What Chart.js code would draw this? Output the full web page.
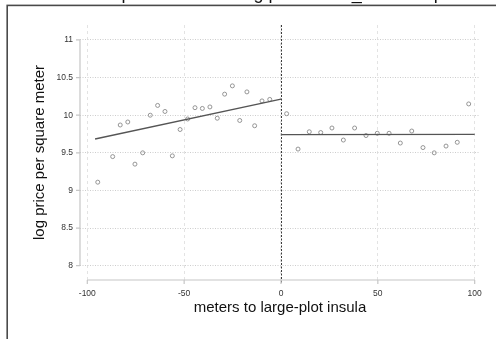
<!DOCTYPE html>
<html><head><meta charset="utf-8">
<script src="https://cdn.jsdelivr.net/npm/chart.js@4.4.1/dist/chart.umd.min.js"></script>
<style>
html,body{margin:0;padding:0;background:#fff;overflow:hidden;}
#wrap{position:relative;width:496px;height:339px;overflow:hidden;background:#fff;}
#cut{position:absolute;left:90.5px;top:-16px;font:18px/18px "Liberation Sans",Arial,sans-serif;color:#111;white-space:nowrap;}
canvas{position:absolute;left:0;top:0;}
</style></head><body>
<div id="wrap"><canvas id="c" width="496" height="339"></canvas><div id="cut">RD plot of means: log prices and_distance plot</div></div>
<script>
const cutoff = 0;
const xTicks = [-100, -50, 0, 50, 100];
const xTickLabels = ['-100', '-50', '0', '50', '100'];
const yTicks = [8, 8.5, 9, 9.5, 10, 10.5, 11];
const yTickLabels = ['8', '8.5', '9', '9.5', '10', '10.5', '11'];
const xTitle = 'meters to large-plot insula';
const yTitle = 'log price per square meter';

const leftBinX = [-94.6, -86.9, -83.0, -79.1, -75.4, -71.4, -67.5, -63.7, -59.9, -56.1, -52.1, -48.2, -44.4, -40.6, -36.7, -32.9, -29.1, -25.1, -21.3, -17.6, -13.6, -9.8, -5.8];
const leftBinY = [9.11, 9.45, 9.87, 9.91, 9.35, 9.50, 10.00, 10.13, 10.05, 9.46, 9.81, 9.95, 10.10, 10.09, 10.11, 9.96, 10.28, 10.39, 9.93, 10.31, 9.86, 10.19, 10.21];
const rightBinX = [2.9, 8.8, 14.6, 20.5, 26.3, 32.2, 38.0, 43.9, 49.7, 55.8, 61.6, 67.5, 73.3, 79.1, 85.2, 91.0, 96.9];
const rightBinY = [10.02, 9.55, 9.78, 9.77, 9.83, 9.67, 9.83, 9.73, 9.76, 9.76, 9.63, 9.79, 9.57, 9.50, 9.59, 9.64, 10.15];
const leftFitX = [-96, 0];
const leftFitY = [9.684, 10.215];
const rightFitX = [0, 100];
const rightFitY = [9.741, 9.745];

const zip = (xs, ys) => xs.map((x, i) => ({x: x, y: ys[i]}));
const FONT = '"Liberation Sans", Arial, Helvetica, sans-serif';

const framePlugin = {
  id: 'frame',
  beforeDraw(chart) {
    const ctx = chart.ctx;
    ctx.save();
    ctx.strokeStyle = '#4a4a4a';
    ctx.lineWidth = 1.6;
    ctx.strokeRect(7.2, 5.4, 700, 700);
    ctx.restore();
  }
};

const axesPlugin = {
  id: 'stataAxes',
  beforeDatasetsDraw(chart) {
    const ctx = chart.ctx;
    const xs = chart.scales.x, ys = chart.scales.y;
    const area = chart.chartArea;
    ctx.save();
    // cutoff line
    const cx = Math.round(xs.getPixelForValue(cutoff)) + 0.5;
    ctx.strokeStyle = '#3a3a3a';
    ctx.lineWidth = 1;
    ctx.setLineDash([2, 1.5]);
    ctx.beginPath();
    ctx.moveTo(cx, area.top);
    ctx.lineTo(cx, area.bottom + 3);
    ctx.stroke();
    ctx.setLineDash([]);
    // axis lines
    ctx.strokeStyle = '#c6c6c6';
    ctx.lineWidth = 1.2;
    const yAx = area.left;
    ctx.beginPath();
    ctx.moveTo(yAx, ys.getPixelForValue(yTicks[0]));
    ctx.lineTo(yAx, ys.getPixelForValue(yTicks[yTicks.length - 1]));
    yTicks.forEach(v => {
      const p = ys.getPixelForValue(v);
      ctx.moveTo(yAx, p);
      ctx.lineTo(yAx - 4, p);
    });
    const xAx = area.bottom;
    ctx.moveTo(xs.getPixelForValue(xTicks[0]), xAx);
    ctx.lineTo(xs.getPixelForValue(xTicks[xTicks.length - 1]), xAx);
    xTicks.forEach(v => {
      const p = xs.getPixelForValue(v);
      ctx.moveTo(p, xAx);
      ctx.lineTo(p, xAx + 4);
    });
    ctx.stroke();
    ctx.restore();
  }
};

new Chart(document.getElementById('c'), {
  type: 'scatter',
  data: {
    datasets: [
      {data: zip(leftFitX, leftFitY), showLine: true, pointRadius: 0, borderColor: '#555', borderWidth: 1.3, fill: false, order: 1},
      {data: zip(rightFitX, rightFitY), showLine: true, pointRadius: 0, borderColor: '#555', borderWidth: 1.3, fill: false, order: 1},
      {data: zip(leftBinX, leftBinY), pointRadius: 2, pointBorderWidth: 0.9, pointBorderColor: '#8a8a8a', pointBackgroundColor: 'rgba(0,0,0,0)', order: 2},
      {data: zip(rightBinX, rightBinY), pointRadius: 2, pointBorderWidth: 0.9, pointBorderColor: '#8a8a8a', pointBackgroundColor: 'rgba(0,0,0,0)', order: 2}
    ]
  },
  options: {
    responsive: false,
    animation: false,
    events: [],
    layout: {padding: {left: 0, top: 25, right: 16, bottom: 0}},
    plugins: {legend: {display: false}, tooltip: {enabled: false}},
    scales: {
      x: {
        type: 'linear',
        min: -103.77,
        max: 102.74,
        afterBuildTicks(s) { s.ticks = xTicks.map(v => ({value: v})); },
        afterFit(s) { s.height = 59; },
        grid: {color: '#e3e3e3', lineWidth: 1, drawTicks: false},
        border: {display: false, dash: [3, 3]},
        ticks: {
          autoSkip: false, maxRotation: 0, padding: 8.5,
          color: '#333', font: {family: FONT, size: 8.5},
          callback: (v, i) => xTickLabels[i]
        },
        title: {display: true, text: xTitle, color: '#111', font: {family: FONT, size: 15}, padding: {top: 0, bottom: 22.5}}
      },
      y: {
        type: 'linear',
        min: 7.81,
        max: 11.199,
        afterBuildTicks(s) { s.ticks = yTicks.map(v => ({value: v})); },
        afterFit(s) { s.width = 80; },
        grid: {color: '#cdcdcd', lineWidth: 1, drawTicks: false},
        border: {display: false, dash: [1, 1.5]},
        ticks: {
          autoSkip: false, padding: 7,
          color: '#333', font: {family: FONT, size: 8.5},
          callback: (v, i) => yTickLabels[i]
        },
        title: {display: true, text: yTitle, color: '#111', font: {family: FONT, size: 15}, padding: {top: 31, bottom: 0}}
      }
    }
  },
  plugins: [framePlugin, axesPlugin]
});
</script>
</body></html>
